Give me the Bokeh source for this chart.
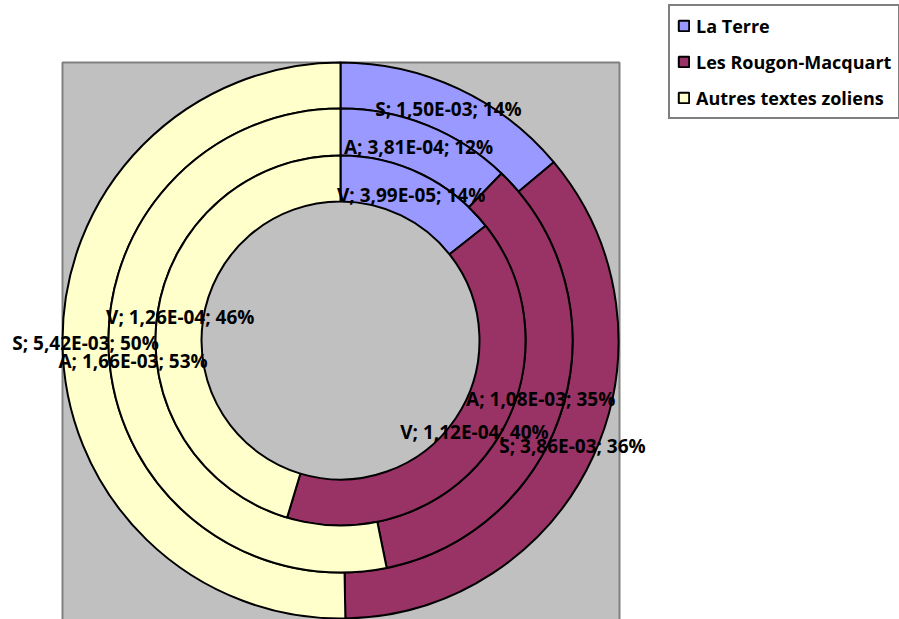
import math
from bokeh.plotting import figure
from bokeh.models import Range1d, Legend, LegendItem, ColumnDataSource
from bokeh.core.properties import value
from bokeh.embed import file_html
from bokeh.resources import INLINE

# ---- data ----
categories = ["La Terre", "Les Rougon-Macquart", "Autres textes zoliens"]
ring_names = ["S", "A", "V"]              # outer -> inner
S_values = [1.50e-03, 3.86e-03, 5.42e-03]
A_values = [3.81e-04, 1.08e-03, 1.66e-03]
V_values = [3.99e-05, 1.12e-04, 1.26e-04]
S_pct = [14, 36, 50]
A_pct = [12, 35, 53]
V_pct = [14, 40, 46]
colors = ["#9999FF", "#993366", "#FFFFCC"]

ring_values = [S_values, A_values, V_values]
ring_pcts = [S_pct, A_pct, V_pct]

# ---- layout (picture pixel coords, y up = 619 - picture_y) ----
W, H = 899, 619
TOP = 619
CX, CY = 340, TOP - 340
radii = [(232, 278), (185, 232), (139, 185)]   # S, A, V

p = figure(width=W, height=H, x_range=Range1d(0, W), y_range=Range1d(TOP - H, TOP),
           output_backend="svg", toolbar_location=None,
           x_axis_location=None, y_axis_location=None, min_border=0)
p.grid.visible = False
p.outline_line_color = None
p.background_fill_color = "white"
p.border_fill_color = "white"

# grey plot area
p.quad(left=[62], right=[619], top=[TOP - 62], bottom=[-40],
       fill_color="#C0C0C0", line_color="#808080", line_width=2)

renderers = []
label_x, label_y, label_txt = [], [], []
for ci, cat in enumerate(categories):
    xs, ys, ir, orr, sa, ea = [], [], [], [], [], []
    for ri, vals in enumerate(ring_values):
        tot = sum(vals)
        c0 = sum(vals[:ci]) / tot
        c1 = sum(vals[:ci + 1]) / tot
        a0 = math.pi / 2 - 2 * math.pi * c0
        a1 = math.pi / 2 - 2 * math.pi * c1
        xs.append(CX); ys.append(CY)
        ir.append(radii[ri][0]); orr.append(radii[ri][1])
        sa.append(a0); ea.append(a1)
        am = (a0 + a1) / 2
        rm = (radii[ri][0] + radii[ri][1]) / 2
        label_x.append(CX + rm * math.cos(am))
        label_y.append(CY + rm * math.sin(am))
        label_txt.append("%s; %s; %d%%" % (ring_names[ri],
                                          ("%.2E" % vals[ci]).replace(".", ","),
                                          ring_pcts[ri][ci]))
    src = ColumnDataSource(dict(x=xs, y=ys, ir=ir, orr=orr, sa=sa, ea=ea))
    r = p.annular_wedge(x="x", y="y", inner_radius="ir", outer_radius="orr",
                        start_angle="sa", end_angle="ea", direction="clock",
                        source=src, fill_color=colors[ci], line_color="black",
                        line_width=2)
    renderers.append(r)

p.text(x=label_x, y=label_y, text=label_txt, text_align="center",
       text_baseline="middle", text_font=value("Open Sans"),
       text_font_style="bold", text_font_size="19px", text_color="black")

LEG_H = 111
legend = Legend(items=[LegendItem(label=c, renderers=[r]) for c, r in zip(categories, renderers)],
                location=(668, H - 8 - LEG_H), margin=0, padding=7, spacing=11,
                glyph_width=13, glyph_height=13, label_height=25, label_standoff=6,
                border_line_color="black", border_line_width=2,
                background_fill_color="white", background_fill_alpha=1.0,
                label_text_font="Open Sans", label_text_font_style="bold",
                label_text_font_size="18px", label_text_color="black")
p.add_layout(legend, "center")

open("out.html", "w").write(file_html(p, INLINE))
